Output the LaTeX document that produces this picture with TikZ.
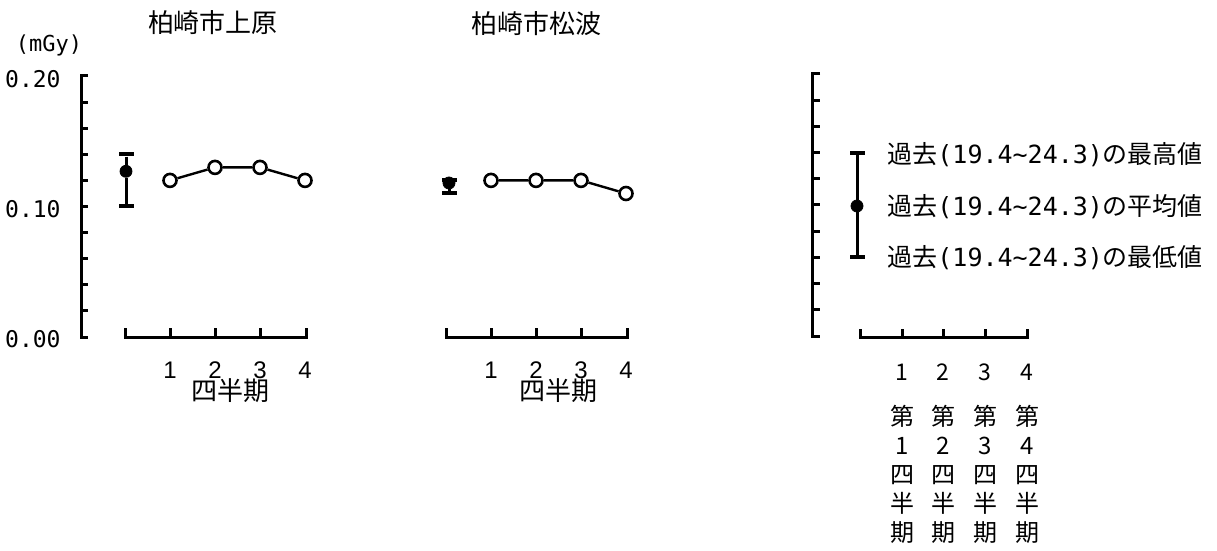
\documentclass[tikz,border=0pt]{standalone}
\usepackage{fontspec}
\setmainfont{Noto Sans CJK JP}
\newfontfamily\numfont{DejaVu Sans Mono}
\newfontfamily\qfont{Liberation Sans}
\usepackage{tikz}
\tikzstyle{axis}=[line width=1.5pt]
\tikzstyle{trend}=[line width=1.2pt]
\tikzstyle{obs}=[draw, circle, fill=white, line width=1.3pt, inner sep=0pt, minimum size=6.5pt]
\tikzstyle{avg}=[draw, circle, fill=black, inner sep=0pt, minimum size=6pt]
\tikzstyle{whisk}=[fill=black, inner sep=0pt, minimum width=7.5pt, minimum height=2pt]
\tikzstyle{ylbl}=[anchor=east, inner sep=0pt, font=\numfont\fontsize{11.5}{13}\selectfont]
\tikzstyle{qlbl}=[inner sep=0pt, font=\qfont\fontsize{12}{14}\selectfont]
\tikzstyle{jlbl}=[inner sep=0pt, font=\fontsize{13}{15}\selectfont]
\tikzstyle{leg}=[anchor=west, inner sep=0pt, font=\fontsize{12.5}{14}\selectfont]
\tikzstyle{vlbl}=[inner sep=0pt, align=center, font=\fontsize{12}{14.5}\selectfont]
\newcommand{\pastlbl}[1]{過去{\numfont\fontsize{12.5}{14}\selectfont(19.4\textasciitilde24.3)}の#1}

\begin{document}
\begin{tikzpicture}[x=0.5pt, y=-0.5pt]
    \useasboundingbox (0,0) rectangle (1217,551);
    % titles and unit
    \node[jlbl] (t1) at (213,23) {柏崎市上原};
    \node[jlbl] (t2) at (536,24) {柏崎市松波};
    \node[inner sep=0pt, font=\numfont\fontsize{11}{13}\selectfont] (unit) at (49,45) {(mGy)};
    % y axes
    \draw[axis] (88,76) -- (81,76) -- (81,337) -- (88,337);
    \draw[axis] (820,74) -- (812,74) -- (812,336) -- (820,336);
    \foreach \i in {1,...,9} {
        \draw[axis] (81,{76+26.1*\i}) -- (88,{76+26.1*\i});
        \draw[axis] (812,{74+26.2*\i}) -- (820,{74+26.2*\i});
    }
    \node[ylbl] (y20) at (61,79) {0.20};
    \node[ylbl] (y10) at (61,209) {0.10};
    \node[ylbl] (y00) at (61,339) {0.00};
    % x axes
    \draw[axis] (125,328) -- (125,337) -- (306,337) -- (306,328);
    \draw[axis] (446,328) -- (446,337) -- (627,337) -- (627,328);
    \draw[axis] (860,329) -- (860,337) -- (1027,337) -- (1027,329);
    \foreach \x in {170,215,260} \draw[axis] (\x,337) -- (\x,328);
    \foreach \x in {491,536,581} \draw[axis] (\x,337) -- (\x,328);
    \foreach \x in {902,943,985} \draw[axis] (\x,337) -- (\x,329);
    % x labels
    \foreach \x/\q in {170/1,215/2,260/3,305/4} \node[qlbl] (qa\q) at (\x,370) {\q};
    \foreach \x/\q in {491/1,536/2,581/3,626/4} \node[qlbl] (qb\q) at (\x,370) {\q};
    \node[jlbl] (pa) at (230,391) {四半期};
    \node[jlbl] (pb) at (558,391) {四半期};
    \foreach \x/\q in {902/1,943/2,985/3,1027/4} {
        \node[inner sep=0pt, font=\fontsize{11.5}{13}\selectfont] (qc\q) at (\x,372) {\q};
        \node[vlbl] (vc\q) at (\x,474.5) {第\\\q\\四\\半\\期};
    }
    % 柏崎市上原
    \node[whisk] (ahi) at (126,154.3) {};
    \node[avg]   (am)  at (126,171.3) {};
    \node[whisk] (alo) at (126,206.5) {};
    \draw[axis] (ahi) -- (am) -- (alo);
    \node[obs] (a1) at (170,180.4) {};
    \node[obs] (a2) at (215,167.4) {};
    \node[obs] (a3) at (260,167.4) {};
    \node[obs] (a4) at (305,180.4) {};
    \draw[trend] (a1) -- (a2) -- (a3) -- (a4);
    % 柏崎市松波
    \node[whisk] (bhi) at (449,180.4) {};
    \node[avg]   (bm)  at (449,183) {};
    \node[whisk] (blo) at (449,193.5) {};
    \draw[axis] (bm) -- (blo);
    \node[obs] (b1) at (491,180.4) {};
    \node[obs] (b2) at (536,180.4) {};
    \node[obs] (b3) at (581,180.4) {};
    \node[obs] (b4) at (626,193.5) {};
    \draw[trend] (b1) -- (b2) -- (b3) -- (b4);
    % legend
    \node[whisk] (chi) at (857,153) {};
    \node[avg]   (cm)  at (857,206) {};
    \node[whisk] (clo) at (857,257) {};
    \draw[axis] (chi) -- (cm) -- (clo);
    \node[leg] (lhi) at (887,155) {\pastlbl{最高値}};
    \node[leg] (lm)  at (887,207) {\pastlbl{平均値}};
    \node[leg] (llo) at (887,258) {\pastlbl{最低値}};
\end{tikzpicture}
\end{document}
